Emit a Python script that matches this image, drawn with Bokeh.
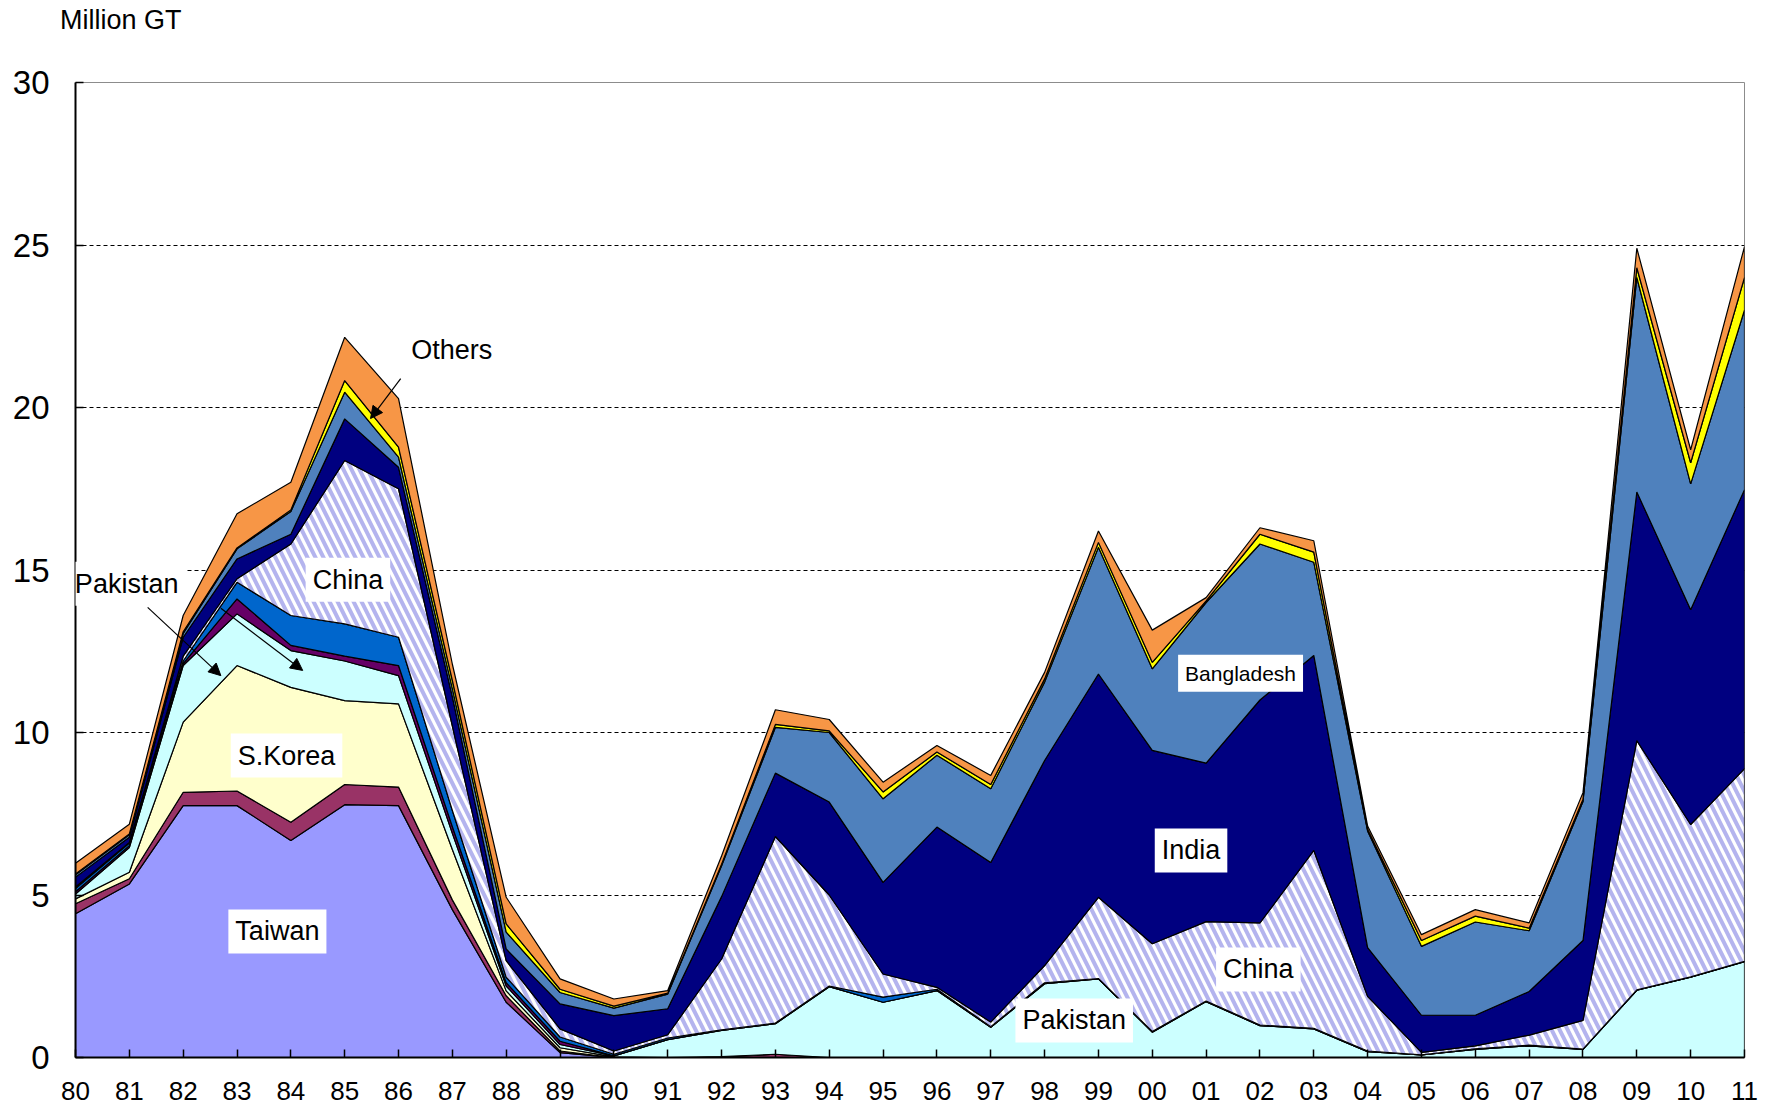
import numpy as np
from bokeh.plotting import figure
from bokeh.models import Label, Arrow, NormalHead, FixedTicker, Range1d, LinearAxis
from bokeh.embed import file_html
from bokeh.resources import INLINE

years = list(range(1980, 2012))
year_labels = [f"{y % 100:02d}" for y in years]
y_ticks = [0, 5, 10, 15, 20, 25, 30]
unit_text = "Million GT"

# Million GT per year (stack order bottom -> top)
taiwan = [4.42, 5.34, 7.75, 7.75, 6.68, 7.78, 7.75, 4.55, 1.70, 0.15] + [0.0] * 22
other_a = [0.31, 0.16, 0.41, 0.45, 0.56, 0.62, 0.57, 0.30, 0.20, 0.05,
           0.0, 0.0, 0.02, 0.10] + [0.0] * 18
skorea = [0.15, 0.20, 2.16, 3.86, 4.15, 2.58, 2.56, 1.55, 0.15, 0.10,
          0.02, 0.0, 0.01, 0.0] + [0.0] * 18
pakistan = [0.15, 0.76, 1.74, 1.59, 1.13, 1.22, 0.87, 0.50, 0.15, 0.10,
            0.03, 0.55, 0.80, 0.94, 2.18, 1.70, 2.06, 0.93, 2.27, 2.42,
            0.78, 1.72, 0.98, 0.88, 0.18, 0.08, 0.25, 0.36, 0.25, 2.07,
            2.47, 2.95]
other_b = [0.07, 0.06, 0.06, 0.46, 0.16, 0.15, 0.31, 0.20, 0.10, 0.10] + [0.0] * 22
other_c = [0.10, 0.08, 0.08, 0.51, 0.92, 0.99, 0.87, 0.50, 0.17, 0.13,
           0.05, 0.05, 0.02, 0.02, 0.02, 0.16, 0.04, 0.02, 0.03, 0.01,
           0.02, 0.02, 0.02, 0.02, 0.02, 0.0, 0.02, 0.02, 0.01, 0.01,
           0.01, 0.01]
china = [0.05, 0.02, 0.15, 0.11, 2.20, 5.03, 4.57, 2.60, 0.51, 0.25,
         0.10, 0.10, 2.18, 5.74, 2.80, 0.71, 0.06, 0.14, 0.53, 2.50,
         2.70, 2.44, 3.14, 5.47, 1.68, 0.08, 0.09, 0.31, 0.88, 7.67,
         4.69, 5.93]
india = [0.30, 0.16, 0.58, 0.61, 0.30, 1.28, 0.66, 0.90, 0.36, 0.77,
         1.09, 0.80, 1.92, 1.95, 2.86, 2.82, 4.93, 4.91, 6.31, 6.87,
         5.95, 4.88, 6.86, 6.00, 1.50, 1.14, 0.94, 1.34, 2.46, 7.65,
         6.61, 8.58]
bangladesh = [0.07, 0.07, 0.12, 0.31, 0.70, 0.82, 0.31, 0.25, 0.52, 0.35,
              0.23, 0.45, 0.95, 1.41, 2.14, 2.57, 2.21, 2.27, 2.41, 3.90,
              2.51, 4.94, 4.80, 2.87, 3.59, 2.12, 2.87, 1.87, 4.28, 6.60,
              3.87, 5.53]
other_d = [0.03, 0.03, 0.05, 0.03, 0.05, 0.36, 0.31, 0.25, 0.25, 0.10,
           0.06, 0.03, 0.05, 0.09, 0.05, 0.21, 0.10, 0.13, 0.10, 0.15,
           0.20, 0.05, 0.30, 0.31, 0.05, 0.18, 0.18, 0.08, 0.07, 0.30,
           0.65, 1.00]
others = [0.33, 0.30, 0.50, 1.05, 0.85, 1.33, 1.49, 0.50, 0.82, 0.32,
          0.22, 0.08, 0.25, 0.45, 0.35, 0.30, 0.20, 0.28, 0.20, 0.35,
          0.99, 0.10, 0.20, 0.35, 0.10, 0.18, 0.20, 0.16, 0.20, 0.60,
          0.40, 0.95]

layers = [
    (taiwan, "#9999FF", False),
    (other_a, "#993366", False),
    (skorea, "#FFFFCC", False),
    (pakistan, "#CCFFFF", False),
    (other_b, "#660066", False),
    (other_c, "#0066CC", False),
    (china, "#FFFFFF", True),
    (india, "#000080", False),
    (bangladesh, "#4F81BD", False),
    (other_d, "#FFFF00", False),
    (others, "#F79646", False),
]

FONT = "Liberation Sans"

p = figure(width=1765, height=1110,
           x_range=Range1d(1980, 2011), y_range=Range1d(0, 30),
           output_backend="svg", toolbar_location=None,
           min_border_left=75, min_border_right=21,
           min_border_top=82, min_border_bottom=53)

p.background_fill_color = "white"
p.border_fill_color = "white"
p.outline_line_color = "#8c8c8c"
p.outline_line_width = 1

bottom = np.zeros(len(years))
for vals, color, hatched in layers:
    top = bottom + np.array(vals)
    xs = years + years[::-1]
    ys = list(top) + list(bottom[::-1])
    if hatched:
        p.patch(xs, ys, fill_color="white", line_color="black", line_width=1.2,
                hatch_pattern="\\", hatch_color="#B4B4EE",
                hatch_weight=4, hatch_scale=16)
    else:
        p.patch(xs, ys, fill_color=color, line_color="black", line_width=1.2)
    bottom = top

# axes
p.xaxis.ticker = FixedTicker(ticks=years)
p.xaxis.major_label_overrides = {y: lab for y, lab in zip(years, year_labels)}
p.yaxis.ticker = FixedTicker(ticks=y_ticks)
for ax in (p.xaxis[0], p.yaxis[0]):
    ax.axis_line_color = "black"
    ax.axis_line_width = 2
    ax.major_tick_in = 8
    ax.major_tick_out = 0
    ax.major_tick_line_color = "black"
    ax.major_tick_line_width = 1.5
    ax.minor_tick_line_color = None
    ax.major_label_text_font = FONT
    ax.major_label_text_color = "black"
p.xaxis.major_label_text_font_size = "26px"
p.xaxis.major_label_standoff = 24
p.yaxis.major_label_text_font_size = "33px"
p.yaxis.major_label_standoff = 26

# unit text shown above the plot as a label-only axis
unit_pos = 1980.84
unit_axis = LinearAxis(ticker=FixedTicker(ticks=[unit_pos]),
                       major_label_overrides={unit_pos: unit_text},
                       axis_line_color=None, major_tick_line_color=None,
                       minor_tick_line_color=None,
                       major_label_text_font=FONT,
                       major_label_text_font_size="27px",
                       major_label_text_color="black",
                       major_label_standoff=42)
p.add_layout(unit_axis, "above")

p.xgrid.visible = False
p.ygrid.ticker = FixedTicker(ticks=[5, 10, 15, 20, 25])
p.ygrid.grid_line_color = "black"
p.ygrid.grid_line_dash = "4 3"
p.ygrid.grid_line_width = 1


def box_label(x, y, text, size="27px", bg="white"):
    p.add_layout(Label(x=x, y=y, text=text, text_font=FONT, text_font_size=size,
                       text_align="center", text_baseline="middle",
                       text_color="black", background_fill_color=bg,
                       padding=7))


box_label(1983.75, 3.88, "Taiwan")
box_label(1983.92, 9.29, "S.Korea")
box_label(1985.06, 14.7, "China")
box_label(1980.95, 14.58, "Pakistan")
box_label(1986.99, 21.78, "Others", bg=None)
box_label(2001.64, 11.82, "Bangladesh", size="21px")
box_label(2000.72, 6.37, "India")
box_label(2001.97, 2.71, "China")
box_label(1998.55, 1.14, "Pakistan")


def arrow(x0, y0, x1, y1):
    p.add_layout(Arrow(end=NormalHead(size=12, fill_color="black", line_color="black"),
                       x_start=x0, y_start=y0, x_end=x1, y_end=y1,
                       line_color="black", line_width=1.2))


arrow(1981.34, 13.85, 1982.70, 11.75)
arrow(1982.70, 13.82, 1984.22, 11.91)
arrow(1986.04, 20.89, 1985.48, 19.66)

open("out.html", "w").write(file_html(p, INLINE))
